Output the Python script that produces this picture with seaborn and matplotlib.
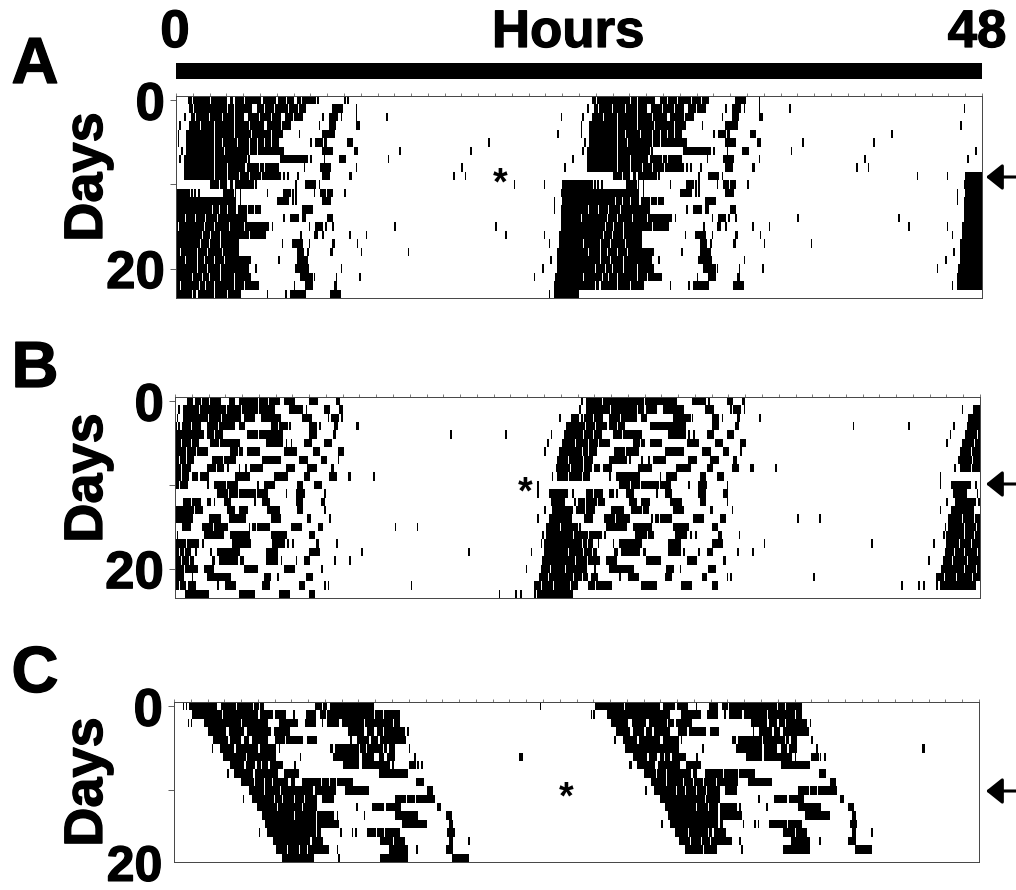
import numpy as np
import matplotlib
matplotlib.use("Agg")
import matplotlib.pyplot as plt
import matplotlib.patheffects as pe
from matplotlib.patches import Rectangle, FancyArrowPatch
import seaborn as sns

# activity bouts (start hour, end hour) for each day
dias_a = [
    [(.7,.9),(1.0,2.0),(2.1,3.0),(3.2,3.4),(3.5,4.0),(4.1,5.0),(5.2,5.4),(5.5,5.9),(6.1,6.5),(6.6,7.0),(7.2,7.4),(7.5,8.3),(8.4,8.5),(10.0,10.1),(10.2,10.3)],
    [(.8,1.0),(1.1,3.0),(3.1,3.4),(3.5,3.8),(3.9,4.5),(4.8,5.2),(5.3,5.8),(5.9,6.6),(6.7,7.2),(7.3,7.7),(9.3,9.9),(10.7,10.8)],
    [(.5,.6),(.9,1.1),(1.2,1.9),(2.0,2.7),(2.8,3.4),(3.5,4.0),(4.3,4.9),(5.0,5.6),(5.7,6.2),(6.5,6.9),(7.0,7.5),(8.7,8.8),(9.1,9.6),(9.8,9.9),(10.7,10.8),(12.5,12.6),(22.9,23.0)],
    [(.2,.3),(.8,1.4),(1.5,2.2),(2.3,3.4),(3.5,4.3),(4.4,5.2),(5.4,6.2),(6.3,6.8),(8.5,8.6),(9.1,9.5),(10.7,10.9)],
    [(.1,.2),(.6,2.2),(2.3,3.4),(3.5,4.4),(4.5,5.6),(5.7,6.3),(7.3,7.4),(8.7,9.4),(22.7,22.8)],
    [(.1,.2),(.6,2.2),(2.3,2.7),(2.8,3.2),(3.3,3.6),(3.7,4.3),(4.4,4.8),(4.9,5.2),(5.3,5.6),(5.7,6.1),(8.0,8.1),(8.3,8.7),(8.8,9.0),(10.2,10.5),(18.6,18.7)],
    [(.3,.4),(.6,2.2),(2.3,2.8),(2.9,3.8),(3.9,4.3),(4.4,4.8),(4.9,6.4),(8.7,9.3),(10.6,10.8),(13.3,13.4),(17.5,17.6)],
    [(.2,.3),(.5,2.2),(2.3,3.2),(3.3,4.2),(4.3,4.4),(6.2,7.8),(8.0,8.1),(8.8,8.9),(9.7,10.1),(12.6,12.7),(23.6,23.7)],
    [(.5,2.2),(2.3,3.0),(3.1,3.8),(3.9,4.1),(4.2,4.9),(5.0,5.2),(5.3,6.1),(7.6,7.7),(8.6,9.2),(10.7,10.8),(17.0,17.1),(23.1,23.2)],
    [(.5,2.2),(2.3,3.0),(3.1,3.7),(3.8,4.3),(4.4,5.0),(5.1,6.2),(6.4,6.5),(6.6,6.7),(7.2,7.3),(8.7,9.1),(10.3,10.5),(16.5,16.6),(17.2,17.3)],
    [(2.0,2.5),(2.6,3.0),(3.2,3.4),(3.5,4.6),(4.7,4.8),(7.1,7.2),(7.7,7.8),(7.8,8.3),(8.5,8.6),(20.1,20.2),(21.9,22.0),(23.0,24.0)],
    [(0,.8),(.9,1.0),(1.1,1.2),(1.3,1.4),(2.8,3.4),(3.5,3.6),(3.8,3.9),(5.4,5.5),(6.4,6.8),(6.9,7.0),(7.1,7.2),(8.2,8.3),(8.6,8.9),(9.0,9.3),(10.0,10.1),(22.9,24.0)],
    [(0,3.5),(3.8,3.9),(6.0,6.7),(6.9,7.0),(7.1,7.2),(8.7,9.2),(22.5,22.6),(23.0,24.0)],
    [(0,2.1),(2.2,2.5),(2.6,3.0),(3.1,3.5),(3.7,4.2),(4.3,4.6),(4.7,5.0),(7.5,8.1),(22.5,22.6),(22.9,24.0)],
    [(0,.5),(.6,1.1),(1.2,1.7),(1.8,2.4),(2.5,3.2),(3.3,4.2),(6.4,6.5),(6.8,7.3),(7.5,7.7),(9.0,9.3),(22.9,24.0)],
    [(0,.1),(.2,.4),(.5,1.0),(1.1,1.6),(1.7,2.2),(2.3,3.1),(3.2,4.0),(4.1,5.5),(5.7,5.8),(7.9,8.0),(8.3,8.7),(8.9,9.0),(9.3,9.4),(13.0,13.1),(19.0,19.1),(22.9,24.0)],
    [(0,1.0),(1.1,1.5),(1.6,2.0),(2.1,2.6),(2.7,3.2),(3.3,3.8),(3.9,4.3),(4.4,5.3),(7.4,7.5),(8.2,8.4),(8.7,8.8),(10.3,10.4),(11.3,11.4),(19.6,19.7),(21.9,22.0),(22.8,24.0)],
    [(0,1.0),(1.1,1.4),(1.5,1.9),(2.0,2.6),(2.7,3.7),(6.3,6.4),(6.9,7.5),(7.9,8.0),(9.3,9.45),(10.75,10.85),(22.2,22.3),(22.8,24.0)],
    [(0,.2),(.3,1.2),(1.3,1.8),(1.9,2.7),(2.8,3.2),(3.3,3.7),(7.2,7.6),(7.8,7.9),(9.2,9.35),(11.0,11.1),(13.8,13.9),(22.7,24.0)],
    [(0,.5),(.6,1.2),(1.3,1.6),(1.7,2.2),(2.3,2.8),(2.9,3.2),(3.3,3.8),(3.9,4.4),(6.1,6.2),(7.2,7.8),(22.3,22.4),(22.7,24.0)],
    [(0,.4),(.5,1.2),(1.3,1.8),(1.9,2.6),(2.7,3.2),(3.3,3.8),(3.9,4.3),(4.7,4.8),(7.1,7.9),(9.8,9.9),(21.8,21.9),(22.7,24.0)],
    [(0,.9),(1.0,1.5),(1.6,1.9),(2.0,2.6),(2.7,3.4),(3.5,4.4),(7.4,8.1),(8.2,8.3),(9.5,9.6),(10.9,11.0),(21.3,21.4),(22.6,24.0)],
    [(0,.2),(.3,1.3),(1.4,1.7),(1.8,2.2),(2.3,3.4),(3.5,4.0),(4.1,4.9),(7.0,7.1),(7.7,8.1),(9.4,9.6),(22.5,24.0)],
    [(0,.9),(1.0,1.2),(1.3,2.2),(2.3,3.0),(3.1,3.8),(5.4,5.5),(6.5,6.6),(6.8,7.7),(9.2,9.8),(22.2,22.3),(22.5,24.0)],
]

dias_b = [
    [(.7,1.0),(1.2,1.5),(1.6,2.0),(2.1,2.7),(3.2,3.5),(3.8,4.1),(4.2,4.9),(5.0,5.5),(5.6,6.2),(6.5,7.1),(8.0,8.5),(9.6,9.8)],
    [(.2,.3),(.5,1.4),(1.5,3.0),(3.1,3.9),(4.0,4.9),(5.0,5.9),(6.8,7.6),(7.8,7.9),(8.9,9.2),(9.8,10.0)],
    [(.1,.2),(.5,1.9),(2.0,2.7),(2.8,3.5),(3.6,3.9),(4.1,4.7),(5.1,6.3),(7.6,8.1),(9.1,9.2),(9.3,9.7),(9.9,10.0),(22.9,23.0),(23.6,24.0)],
    [(0,.1),(.2,.3),(.4,.9),(1.0,1.5),(1.9,2.5),(2.6,3.5),(3.8,4.1),(5.7,6.1),(6.2,6.7),(6.8,6.9),(8.0,8.4),(8.6,8.7),(9.5,9.7),(10.8,10.95),(23.3,24.0)],
    [(0,.4),(.5,1.0),(1.1,1.7),(1.9,2.3),(2.4,2.8),(4.3,4.9),(5.0,6.4),(8.0,8.4),(9.4,9.6),(16.4,16.5),(19.7,19.8),(22.4,22.5),(23.2,24.0)],
    [(0,.3),(.4,.9),(1.0,1.4),(2.1,2.6),(2.7,3.8),(5.4,6.4),(6.6,6.7),(6.9,7.0),(7.7,8.1),(8.9,9.3),(22.2,22.3),(23.1,23.8),(23.9,24.0)],
    [(0,.6),(.7,1.2),(1.3,1.9),(3.3,3.7),(3.8,4.0),(4.3,5.0),(6.5,7.2),(8.2,8.6),(9.7,10.0),(22.0,22.1),(22.9,23.6),(23.7,24.0)],
    [(0,.2),(.3,.6),(.7,1.1),(2.2,2.8),(2.9,3.6),(5.2,6.3),(7.4,7.9),(8.7,9.0),(9.7,9.8),(22.8,23.4),(23.5,24.0)],
    [(0,.3),(.4,.9),(1.9,2.4),(2.5,2.9),(3.1,3.2),(3.8,3.9),(4.2,4.3),(4.5,5.2),(6.6,7.1),(7.9,8.4),(9.3,9.5),(22.7,23.5),(23.6,24.0)],
    [(0,.3),(.4,.8),(1.0,1.3),(1.5,2.0),(3.6,4.4),(5.9,6.7),(7.7,8.0),(9.2,9.6),(10.3,10.5),(11.8,11.9),(22.45,22.55),(22.8,23.4),(23.5,24.0)],
    [(0,.2),(.3,.7),(1.9,2.0),(2.3,3.0),(3.1,3.7),(4.9,5.0),(5.3,5.9),(7.3,7.6),(8.3,8.7),(21.6,21.7)],
    [(2.5,3.1),(3.2,3.7),(3.8,4.8),(4.9,5.5),(6.6,6.7),(7.2,7.7),(8.9,9.0),(21.6,21.7),(22.3,23.4),(23.7,23.8)],
    [(.5,.9),(1.0,1.5),(1.9,2.1),(2.3,2.4),(2.9,3.3),(4.7,4.8),(5.2,5.6),(7.2,7.6),(8.7,8.9),(22.4,23.2),(23.8,23.9)],
    [(0,.4),(.5,1.1),(1.2,1.6),(3.1,3.5),(3.8,4.3),(5.5,6.2),(7.3,7.6),(8.9,9.0),(22.0,22.1),(22.5,23.7),(23.9,24.0)],
    [(0,.4),(.5,1.0),(2.0,2.7),(3.2,3.8),(3.9,4.2),(5.7,6.3),(7.9,8.1),(9.2,9.3),(21.6,21.7),(22.3,23.6)],
    [(.4,.9),(1.6,2.2),(2.3,3.1),(4.4,4.5),(4.6,4.8),(4.9,5.6),(6.9,7.5),(8.5,8.8),(13.1,13.2),(14.4,14.5),(22.1,22.9),(23.0,23.6),(23.7,24.0)],
    [(.1,.2),(1.7,2.9),(3.3,4.4),(5.7,6.6),(8.0,8.3),(21.9,22.0),(22.1,23.0),(23.1,23.7),(23.8,24.0)],
    [(0,.6),(.7,1.4),(1.6,1.7),(3.4,4.1),(4.2,4.5),(5.8,6.5),(6.7,6.8),(7.0,7.1),(8.4,8.6),(9.6,9.7),(21.8,21.9),(22.0,23.0),(23.1,23.6),(23.7,24.0)],
    [(0,.2),(.3,.5),(.6,.9),(1.2,1.3),(2.1,2.2),(2.5,3.8),(5.4,6.1),(8.0,8.6),(11.1,11.2),(17.5,17.6),(21.2,21.3),(22.0,22.7),(22.8,23.4),(23.5,24.0)],
    [(0,.3),(.4,.8),(.9,1.1),(2.2,2.4),(2.6,3.7),(3.9,4.1),(5.4,6.1),(6.3,6.4),(7.2,7.3),(7.7,8.0),(9.5,9.6),(10.4,10.5),(21.9,22.4),(22.5,23.0),(23.1,23.8),(23.9,24.0)],
    [(0,.5),(.6,1.3),(1.7,2.3),(4.1,4.9),(6.5,7.1),(8.7,8.85),(20.9,21.0),(21.8,22.3),(22.4,23.2),(23.3,24.0)],
    [(0,.5),(1.0,1.1),(1.9,3.3),(5.3,5.7),(6.1,6.2),(7.8,8.2),(21.7,22.2),(22.3,23.0),(23.1,23.7),(23.8,24.0)],
    [(0,.2),(.3,.6),(.8,1.2),(2.5,2.6),(3.0,3.6),(5.2,5.6),(7.4,7.7),(8.9,9.0),(9.1,9.2),(14.05,14.15),(21.4,21.8),(21.9,22.5),(22.6,23.5),(23.6,24.0)],
    [(.6,1.0),(1.1,2.0),(3.8,4.7),(6.2,6.8),(8.0,8.3),(19.3,19.4),(20.3,20.4),(20.6,20.7),(21.4,21.5),(21.6,23.7)],
]

dias_c = [
    [(.55,.6),(.7,.75),(.9,2.5),(2.8,3.65),(3.75,4.65),(4.75,5.0),(5.1,5.3),(8.4,8.8),(8.9,9.1),(9.3,11.9),(21.8,21.9)],
    [(1.1,2.8),(2.9,4.95),(5.15,5.85),(6.0,6.6),(7.1,7.2),(7.9,8.4),(8.7,9.0),(9.1,11.9),(12.0,12.4),(12.5,13.4)],
    [(.85,.9),(1.0,1.1),(1.8,3.95),(4.05,5.55),(6.25,7.35),(7.8,8.4),(8.8,8.9),(9.1,9.8),(10.0,11.3),(11.4,13.0),(13.1,13.4)],
    [(2.05,3.05),(3.3,4.1),(4.35,5.35),(5.45,5.75),(5.95,6.85),(10.4,11.3),(11.5,11.9),(12.1,12.4),(12.5,13.7),(13.9,14.0)],
    [(2.35,3.15),(3.35,3.95),(4.15,4.45),(4.65,5.55),(6.05,6.55),(6.7,7.65),(7.95,8.45),(10.5,10.6),(10.9,11.6),(11.75,12.1),(12.3,13.8)],
    [(2.25,2.35),(2.75,3.55),(3.7,4.95),(5.15,6.05),(6.25,6.3),(9.3,9.5),(9.6,11.0),(11.1,11.4),(11.5,12.4),(12.5,12.7),(12.8,13.1),(14.0,14.1)],
    [(2.9,4.25),(4.35,6.05),(7.5,7.6),(9.5,11.0),(11.2,11.9),(12.2,12.5),(12.7,13.1),(14.3,14.4),(20.6,20.8)],
    [(3.35,4.15),(4.3,4.75),(4.95,5.15),(5.25,5.55),(5.7,6.45),(7.15,7.25),(10.1,11.0),(11.2,12.8),(13.0,13.1),(14.0,14.4),(14.5,14.6),(14.75,14.85)],
    [(3.15,3.3),(3.6,4.65),(4.85,6.15),(6.55,7.4),(12.2,13.9)],
    [(4.0,4.7),(4.8,5.3),(5.4,5.8),(5.9,6.75),(6.95,7.15),(7.65,8.7),(8.8,9.2),(9.3,9.6),(9.7,10.6),(14.45,14.85)],
    [(4.45,5.3),(5.4,6.3),(6.4,6.9),(7.0,7.5),(7.6,8.25),(8.4,9.6),(10.2,11.6),(15.1,15.4)],
    [(4.1,4.2),(4.65,5.9),(6.0,6.4),(6.5,7.1),(7.2,7.7),(7.8,8.5),(8.85,9.5),(13.2,13.8),(13.9,14.3),(14.4,15.5)],
    [(4.95,6.1),(6.2,7.6),(7.7,8.5),(10.85,10.95),(11.8,12.5),(12.65,13.5),(15.7,15.9)],
    [(5.25,7.1),(7.2,7.8),(7.9,8.4),(8.55,9.5),(9.7,9.8),(11.3,11.4),(13.2,14.5),(16.2,16.5)],
    [(5.45,8.4),(8.55,9.8),(13.6,15.05),(16.4,16.6)],
    [(5.05,5.15),(5.55,8.4),(8.55,8.75),(9.9,10.0),(10.6,10.7),(10.8,10.9),(11.5,12.0),(12.1,12.5),(12.6,13.4),(16.3,16.7)],
    [(5.9,6.6),(6.7,7.8),(7.9,8.1),(8.2,8.85),(12.3,13.0),(13.1,13.7),(16.4,16.6),(17.55,17.65)],
    [(6.1,6.7),(6.8,7.4),(7.5,7.9),(8.0,9.2),(9.7,9.8),(12.8,13.9),(14.45,14.55),(16.2,16.6)],
    [(6.45,7.5),(7.6,8.3),(9.8,9.9),(12.3,13.9),(16.6,17.55)],
]

paneles = ["A", "B", "C"]
dias_panel = [dias_a, dias_b, dias_c]
ticks_dias = [[0, 10, 20], [0, 10, 20], [0, 10]]
etiquetas_dias = [["0", "", "20"], ["0", "", "20"], ["0", ""]]
marca_estrella = [(9, 19.3), (10, 20.85), (10, 23.4)]

BINS_HORA = 20
W, H = 1016, 890
GRUESO = [pe.withStroke(linewidth=0.9, foreground="black")]


def fx(px):
    return px / W


def fy(py):
    return 1 - py / H


def doble_plot(dias):
    """Cada fila muestra un dia y, a la derecha, el dia siguiente"""
    m = np.zeros((len(dias), 24 * BINS_HORA))
    for i, bouts in enumerate(dias):
        for ini, fin in bouts:
            a = int(round(ini * BINS_HORA))
            b = int(round(fin * BINS_HORA))
            # the white slits inside long bouts are thinner than the 0.1 h I could read
            if fin - ini >= 0.2:
                b += 1
            m[i, a:b] = 1
    sig = np.vstack([m[1:], np.zeros((1, m.shape[1]))])
    return np.hstack([m, sig])


sns.set_theme(style="white")
plt.rcParams["font.family"] = ["Liberation Sans", "DejaVu Sans"]

fig = plt.figure(figsize=(W / 100, H / 100), dpi=100, facecolor="white")

# left, top, right, bottom of each panel, letter and Days centre
cajas = [(176, 96, 982, 298), (175, 397, 980, 598), (174, 702, 979, 862)]
letra_y = [66, 370, 675]
dias_y = [177, 478, 782]

for k, panel in enumerate(paneles):
    x0, y0, x1, y1 = cajas[k]
    ax = fig.add_axes([fx(x0), fy(y1), (x1 - x0) / W, (y1 - y0) / H])
    sns.heatmap(doble_plot(dias_panel[k]), ax=ax, cmap=["white", "black"], vmin=0, vmax=1,
                cbar=False, xticklabels=False, yticklabels=False)
    for s in ax.spines.values():
        s.set_visible(True)
        s.set_color("#444444")
        s.set_linewidth(0.7)
    ax.xaxis.tick_top()
    ax.set_xticks(np.arange(0, 49) * BINS_HORA)
    ax.set_xticklabels([])
    ax.tick_params(axis="x", top=True, bottom=False, length=2.5, width=0.5, color="#444444", pad=0)
    ax.set_yticks(np.array(ticks_dias[k]) + 0.5)
    ax.set_yticklabels(etiquetas_dias[k], rotation=0, fontsize=38, fontweight="bold", color="black",
                       path_effects=GRUESO)
    ax.tick_params(axis="y", left=True, length=4, width=0.6, color="#444444", pad=4)
    if panel == "C":
        # reference has this label hanging off the bottom; keep it just inside the page
        ax.text(-0.0145, 19.7, "20", transform=ax.get_yaxis_transform(), ha="right", va="center",
                fontsize=36, fontweight="bold", color="black", clip_on=False, path_effects=GRUESO)

    fig.text(fx(35), fy(letra_y[k]), panel, ha="center", va="center", fontsize=47, fontweight="bold",
             color="black", path_effects=GRUESO)
    fig.text(fx(88), fy(dias_y[k]), "Days", rotation=90, ha="center", va="center",
             fontsize=39, fontweight="bold", color="black", path_effects=GRUESO)

    fila, hora = marca_estrella[k]
    ax.text(hora * BINS_HORA, fila + 1.5, "*", ha="center", va="center", fontsize=27,
            fontweight="bold", color="black")

# arrows on the right
for ya in [177, 484, 791]:
    fig.add_artist(FancyArrowPatch((fx(1016), fy(ya)), (fx(986), fy(ya)),
                   transform=fig.transFigure, arrowstyle="-|>,head_length=0.5,head_width=0.4",
                   mutation_scale=20, lw=2.2, color="black", shrinkA=0, shrinkB=0))

# top bar and its labels
fig.add_artist(Rectangle((fx(176), fy(79)), 806 / W, 16 / H, transform=fig.transFigure, color="black", lw=0))
fig.text(fx(175), fy(33), "0", ha="center", va="center", fontsize=38, fontweight="bold", color="black",
         path_effects=GRUESO)
fig.text(fx(568), fy(33), "Hours", ha="center", va="center", fontsize=38, fontweight="bold", color="black",
         path_effects=GRUESO)
fig.text(fx(977), fy(33), "48", ha="center", va="center", fontsize=38, fontweight="bold", color="black",
         path_effects=GRUESO)

fig.savefig("out.png", dpi=100)
